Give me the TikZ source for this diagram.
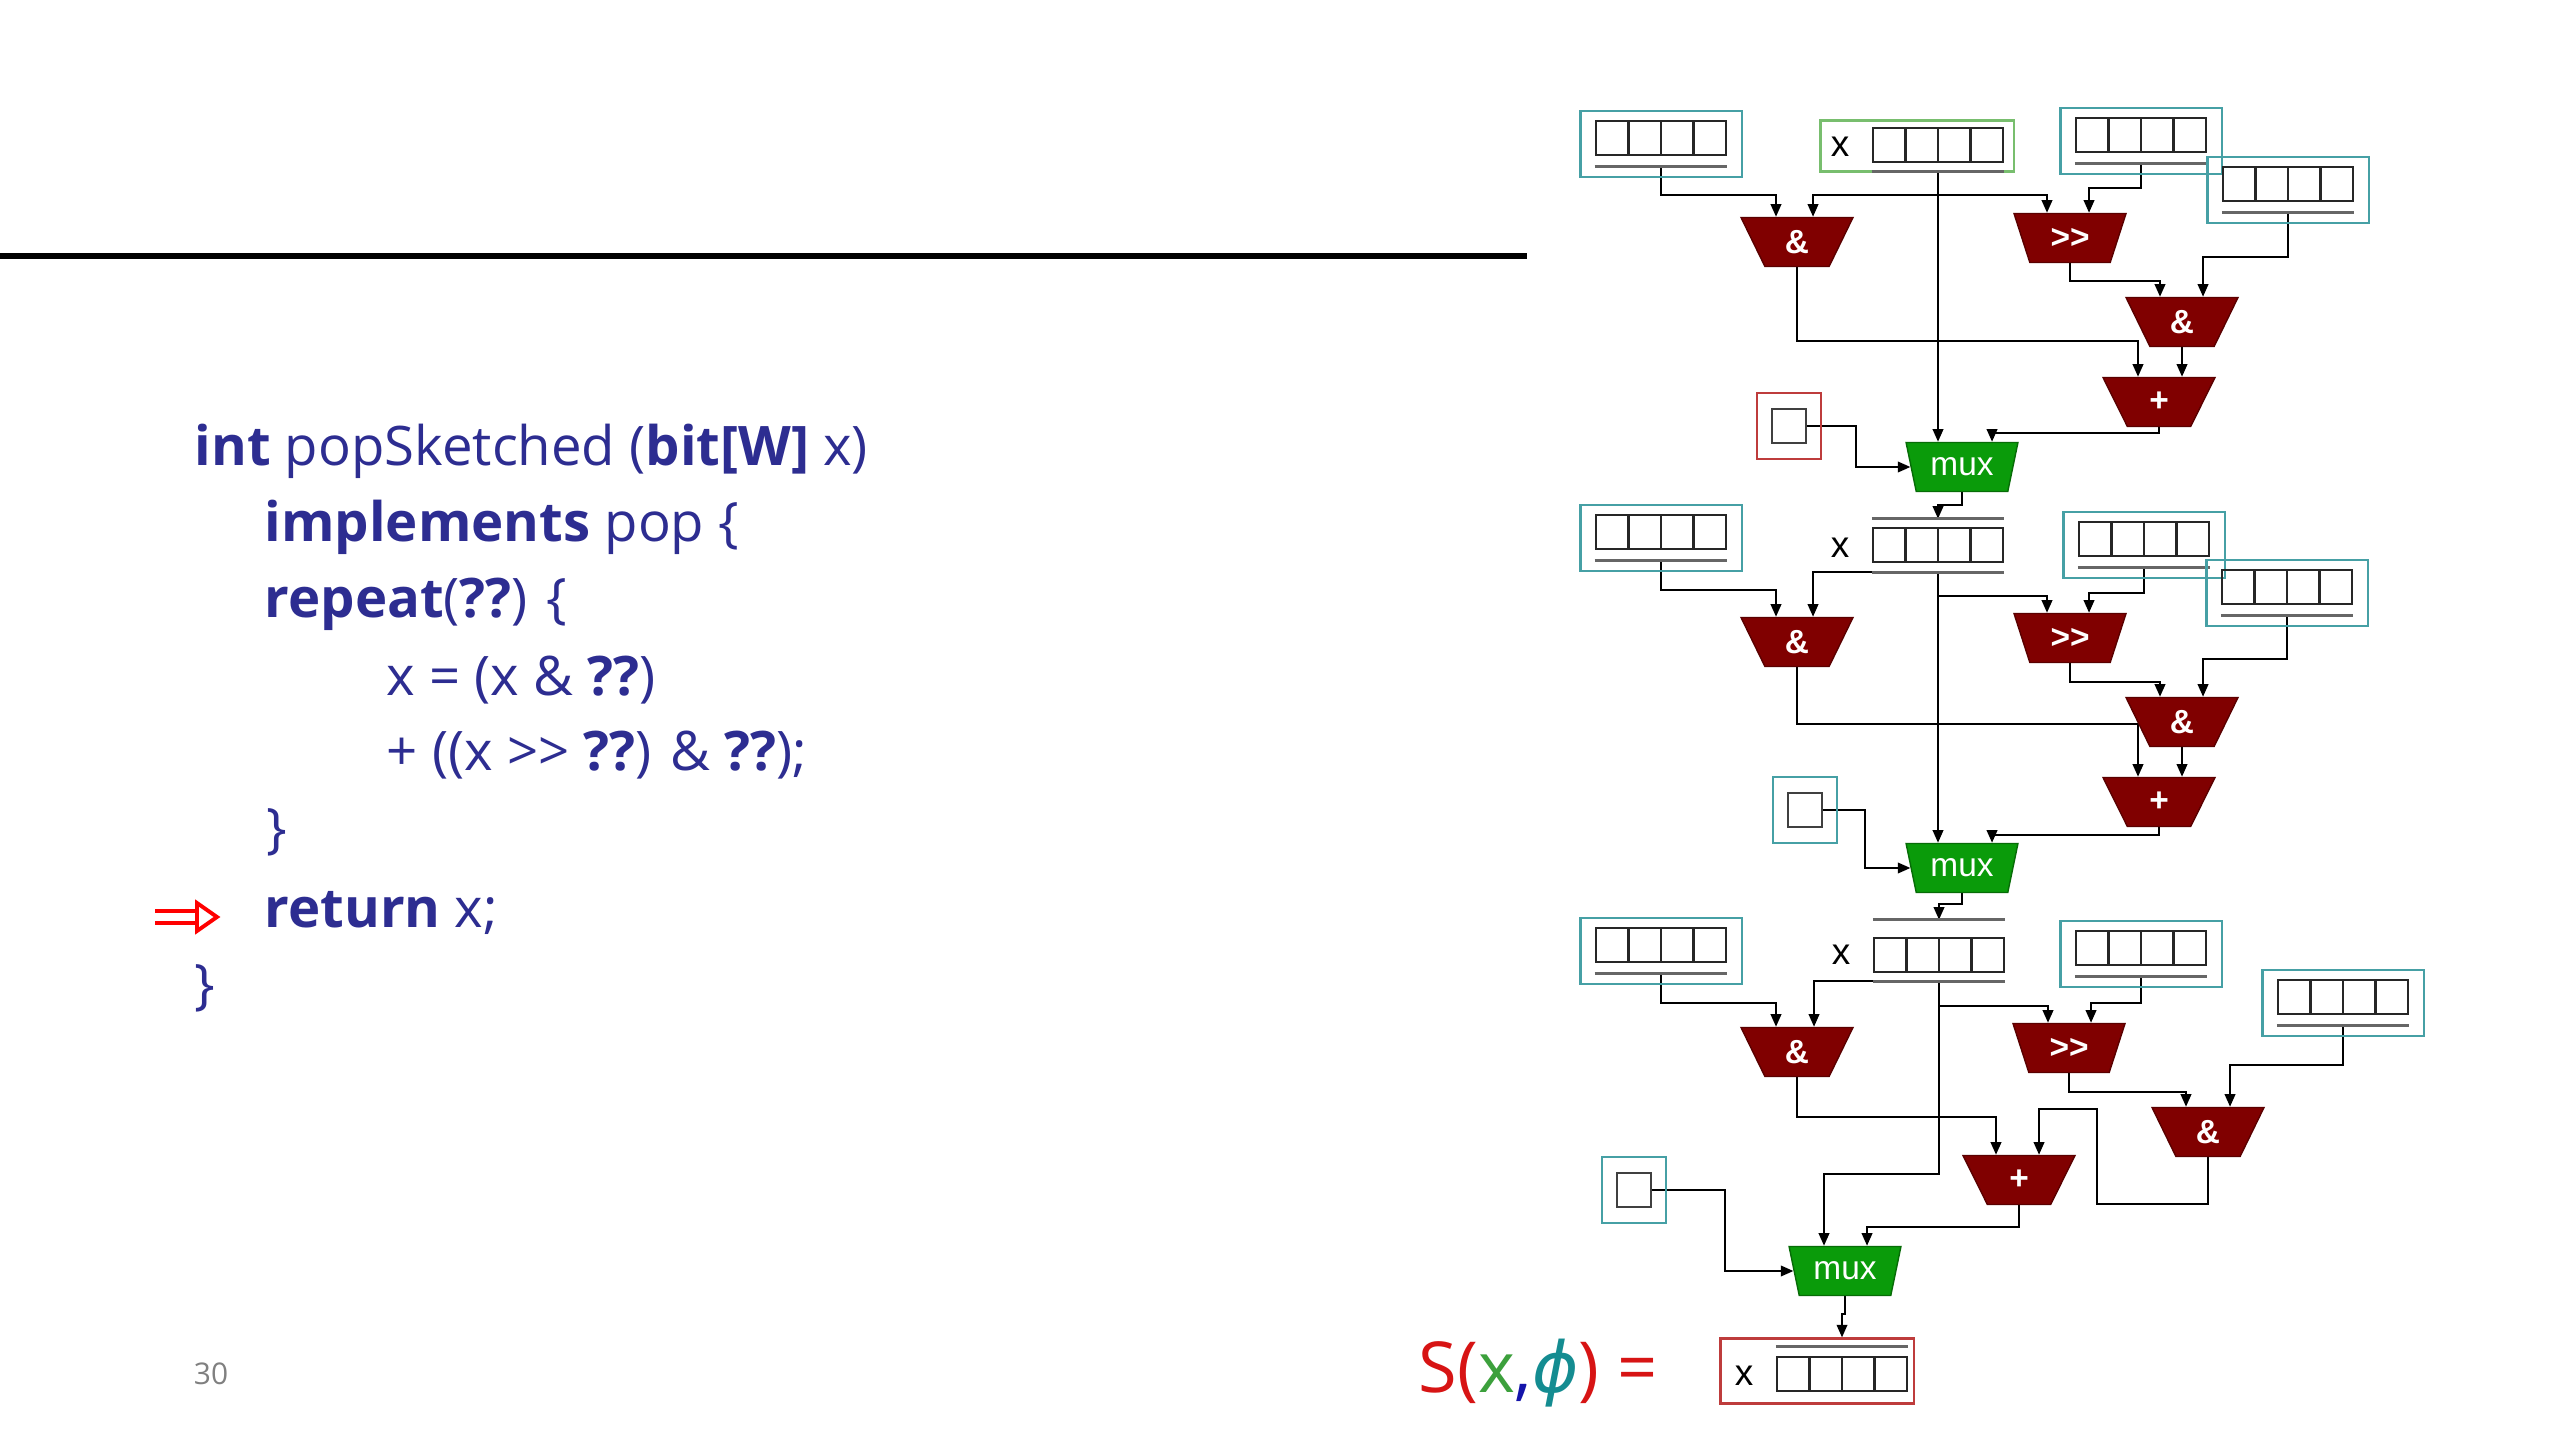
\documentclass[tikz,border=0pt]{standalone}
\usepackage{fontspec}
\setmainfont{Open Sans}
\newfontfamily\diag{Liberation Sans}
\newfontfamily\greek{DejaVu Sans}
\usetikzlibrary{shapes.geometric,arrows.meta,backgrounds}

\definecolor{codeblue}{RGB}{45,45,145}
\definecolor{boxteal}{RGB}{70,160,165}
\definecolor{boxgreen}{RGB}{120,190,110}
\definecolor{boxred}{RGB}{190,60,60}
\definecolor{gatered}{RGB}{128,0,0}
\definecolor{muxgreen}{RGB}{10,155,10}
\definecolor{sred}{RGB}{215,20,20}
\definecolor{sgreen}{RGB}{60,160,60}
\definecolor{sblue}{RGB}{20,20,170}
\definecolor{steal}{RGB}{20,140,145}

\tikzset{
  code/.style={anchor=base west, inner sep=0pt, text=codeblue, font=\fontsize{15.5}{18}\selectfont},
  inbox/.style={rectangle, line width=0.6pt, minimum width=1.61cm, minimum height=0.66cm, inner sep=0pt},
  xbox/.style={rectangle, line width=0.6pt, minimum width=1.93cm, minimum height=0.51cm, inner sep=0pt},
  reg/.style={rectangle, draw=black!85, line width=0.7pt, minimum width=1.3cm, minimum height=0.34cm, inner sep=0pt,
    path picture={\foreach \k in {1,2,3}
      \draw[black!85, line width=0.7pt] ([xshift=\k*0.325cm]path picture bounding box.north west)
        -- ([xshift=\k*0.325cm]path picture bounding box.south west);}},
  bus/.style={draw=black!60, line width=0.9pt},
  selbox/.style={rectangle, line width=0.6pt, minimum width=0.64cm, minimum height=0.66cm, inner sep=0pt},
  selreg/.style={rectangle, draw=black!75, line width=0.8pt, minimum width=0.34cm, minimum height=0.34cm, inner sep=0pt},
  lbl/.style={inner sep=0pt, font=\diag\fontsize{10.5}{12}\selectfont},
  gate/.style={trapezium, trapezium stretches=true, shape border rotate=180, trapezium angle=69,
    minimum width=1.12cm, minimum height=0.49cm, inner sep=0pt, fill=gatered, draw=gatered!70!black,
    text=white, font=\diag\bfseries\fontsize{9.5}{10}\selectfont},
  mux/.style={gate, fill=muxgreen, draw=muxgreen!70!black, font=\diag\fontsize{9.5}{10}\selectfont},
  wire/.style={draw=black, line width=0.6pt, -{Triangle[length=3.6pt,width=3pt]}}
}

\newcommand{\RegBox}[4]{%
  \node[inbox, draw=#4] (#1) at (#2,#3) {};
  \node[reg] (#1r) at (#2,#3-6) {};
  \coordinate (#1u) at ([yshift=-0.1cm]#1r.south);
  \draw[bus] ([yshift=-0.1cm]#1r.south west) -- ([yshift=-0.1cm]#1r.south east);
}

\begin{document}
\begin{tikzpicture}[x=0.01cm, y=-0.01cm]
  \begin{scope}[on background layer]
    \fill[white] (0,0) rectangle (2560,1440);
  \end{scope}
  \useasboundingbox (0,0) rectangle (2560,1440);

  \draw[line width=1.7pt] (0,256) -- (1527,256);

  \node[code] (sig) at (194,466) {\textbf{int} popSketched (\textbf{bit[W]} x)};
  \node[code] (impl) at (264,542) {\textbf{implements} pop \{};
  \node[code] (rep) at (264,618) {\textbf{repeat}(\textbf{??}) \{};
  \node[code] (asg) at (386,696) {x = (x \& \textbf{??})};
  \node[code] (shf) at (386,771) {+ ((x >{}> \textbf{??}) \& \textbf{??});};
  \node[code] (cls) at (266,847) {\}};
  \node[code] (ret) at (264,927) {\textbf{return} x;};
  \node[code] (fin) at (194,1003) {\}};

  \draw[red, line width=1.1pt] (155,911) -- (197,911) (155,923) -- (197,923);
  \draw[red, line width=1.1pt, line join=miter] (197,903) -- (217,917) -- (197,931) -- cycle;

  \node[inner sep=0pt, text=black!50, font=\fontsize{8.5}{10}\selectfont] (page) at (211,1374) {30};

  \node[anchor=base west, inner sep=0pt, font=\fontsize{20}{24}\selectfont] (sx) at (1418,1392)
    {\textcolor{sred}{S(}\textcolor{sgreen}{x}\textcolor{sblue}{,}\textcolor{steal}{\greek\itshape ϕ}\textcolor{sred}{) =}};

  % first round
  \RegBox{A1}{1661}{144}{boxteal}
  \RegBox{C1}{2141}{141}{boxteal}
  \RegBox{D1}{2288}{190}{boxteal}
  \node[xbox, draw=boxgreen] (X1) at (1917,146) {};
  \node[reg] (X1r) at (1938,145) {};
  \node[lbl] (X1l) at (1840,147) {x};
  \coordinate (X1u) at ([yshift=-0.08cm]X1r.south);
  \draw[bus] (X1u -| X1r.west) -- (X1u -| X1r.east);
  \node[selbox, draw=boxred] (S1) at (1789,426) {};
  \node[selreg] (S1r) at (1789,426) {};
  \node[gate] (Aa1) at (1797,242) {\&};
  \node[gate] (Sh1) at (2070,238) {>{}>};
  \node[gate] (Ab1) at (2182,322) {\&};
  \node[gate] (Ad1) at (2159,402) {+};
  \node[mux] (Mx1) at (1962,467) {mux};

  % second round
  \RegBox{A2}{1661}{538}{boxteal}
  \RegBox{C2}{2144}{545}{boxteal}
  \RegBox{D2}{2287}{593}{boxteal}
  \node[reg] (X2r) at (1938,545) {};
  \node[lbl] (X2l) at (1840,548) {x};
  \coordinate (X2t) at ([yshift=0.08cm]X2r.north);
  \coordinate (X2u) at ([yshift=-0.09cm]X2r.south);
  \draw[bus] (X2t -| X2r.west) -- (X2t -| X2r.east);
  \draw[bus] (X2u -| X2r.west) -- (X2u -| X2r.east);
  \node[selbox, draw=boxteal] (S2) at (1805,810) {};
  \node[selreg] (S2r) at (1805,810) {};
  \node[gate] (Aa2) at (1797,642) {\&};
  \node[gate] (Sh2) at (2070,638) {>{}>};
  \node[gate] (Ab2) at (2182,722) {\&};
  \node[gate] (Ad2) at (2159,802) {+};
  \node[mux] (Mx2) at (1962,868) {mux};

  % third round
  \RegBox{A3}{1661}{951}{boxteal}
  \RegBox{C3}{2141}{954}{boxteal}
  \RegBox{D3}{2343}{1003}{boxteal}
  \node[reg] (X3r) at (1939,955) {};
  \node[lbl] (X3l) at (1841,955) {x};
  \coordinate (X3t) at ([yshift=0.17cm]X3r.north);
  \coordinate (X3u) at ([yshift=-0.08cm]X3r.south);
  \draw[bus] (X3t -| X3r.west) -- (X3t -| X3r.east);
  \draw[bus] (X3u -| X3r.west) -- (X3u -| X3r.east);
  \node[selbox, draw=boxteal] (S3) at (1634,1190) {};
  \node[selreg] (S3r) at (1634,1190) {};
  \node[gate] (Aa3) at (1797,1052) {\&};
  \node[gate] (Sh3) at (2069,1048) {>{}>};
  \node[gate] (Ab3) at (2208,1132) {\&};
  \node[gate] (Ad3) at (2019,1180) {+};
  \node[mux] (Mx3) at (1845,1271) {mux};

  % result
  \node[xbox, draw=boxred, minimum height=0.65cm] (Out) at (1817,1371) {};
  \node[reg] (Outr) at (1842,1374) {};
  \node[lbl] (Outl) at (1744,1376) {x};
  \coordinate (Ot) at ([yshift=0.09cm]Outr.north);
  \draw[bus] (Ot -| Outr.west) -- (Ot -| Outr.east);

  \begin{scope}[on background layer]
    \draw[wire] (A1u) -- ++(0,29) -| ([xshift=-0.21cm]Aa1.north);
    \draw[wire] (X1u) -- (X1u |- Mx1.north);
    \draw[wire] (X1u) ++(0,24) coordinate (X1b) -| ([xshift=0.16cm]Aa1.north);
    \draw[wire] (X1b) -| ([xshift=-0.23cm]Sh1.north);
    \draw[wire] (C1u) -- ++(0,25) -| ([xshift=0.19cm]Sh1.north);
    \draw[wire] (D1u) -- ++(0,45) -| ([xshift=0.21cm]Ab1.north);
    \draw[wire] (Sh1.south) -- ++(0,18) -| ([xshift=-0.22cm]Ab1.north);
    \draw[wire] (Aa1.south) -- ++(0,74) -| ([xshift=-0.21cm]Ad1.north);
    \draw[wire] (Ab1.south) -- (Ab1.south |- Ad1.north);
    \draw[wire] (Ad1.south) -- ++(0,6) -| ([xshift=0.3cm]Mx1.north);
    \draw[wire] (S1r.east) -- ++(49,0) |- (Mx1.west);
    \draw[wire] (Mx1.south) -- ++(0,13) -| (X2t);

    \draw[wire] (A2u) -- ++(0,30) -| ([xshift=-0.21cm]Aa2.north);
    \draw[wire] (X2u) -| ([xshift=0.16cm]Aa2.north);
    \draw[wire] (X2u) -- (X2u |- Mx2.north);
    \draw[wire] (X2u) ++(0,24) coordinate (X2b) -| ([xshift=-0.23cm]Sh2.north);
    \draw[wire] (C2u) -- ++(0,26) -| ([xshift=0.19cm]Sh2.north);
    \draw[wire] (D2u) -- ++(0,44) -| ([xshift=0.21cm]Ab2.north);
    \draw[wire] (Sh2.south) -- ++(0,19) -| ([xshift=-0.22cm]Ab2.north);
    \draw[wire] (Aa2.south) -- ++(0,57) -| ([xshift=-0.21cm]Ad2.north);
    \draw[wire] (Ab2.south) -- (Ab2.south |- Ad2.north);
    \draw[wire] (Ad2.south) -- ++(0,8) -| ([xshift=0.3cm]Mx2.north);
    \draw[wire] (S2r.east) -- ++(42,0) |- (Mx2.west);
    \draw[wire] (Mx2.south) -- ++(0,11) -| (X3t);

    \draw[wire] (A3u) -- ++(0,30) -| ([xshift=-0.21cm]Aa3.north);
    \draw[wire] (X3u) -| ([xshift=0.17cm]Aa3.north);
    \draw[wire] (X3u) -- ++(0,193) -| ([xshift=-0.21cm]Mx3.north);
    \draw[wire] (X3u) ++(0,25) coordinate (X3b) -| ([xshift=-0.21cm]Sh3.north);
    \draw[wire] (C3u) -- ++(0,27) -| ([xshift=0.22cm]Sh3.north);
    \draw[wire] (D3u) -- ++(0,40) -| ([xshift=0.22cm]Ab3.north);
    \draw[wire] (Sh3.south) -- ++(0,19) -| ([xshift=-0.22cm]Ab3.north);
    \draw[wire] (Aa3.south) -- ++(0,40) -| ([xshift=-0.23cm]Ad3.north);
    \draw[wire] (Ab3.south) |- ++(-111,47) -- ++(0,-95) -| ([xshift=0.2cm]Ad3.north);
    \draw[wire] (Ad3.south) -- ++(0,22) -| ([xshift=0.22cm]Mx3.north);
    \draw[wire] (S3r.east) -- ++(73,0) |- (Mx3.west);
    \draw[wire] (Mx3.south) -- ++(0,18) -| (Outr.north |- Out.north);
  \end{scope}
\end{tikzpicture}
\end{document}
